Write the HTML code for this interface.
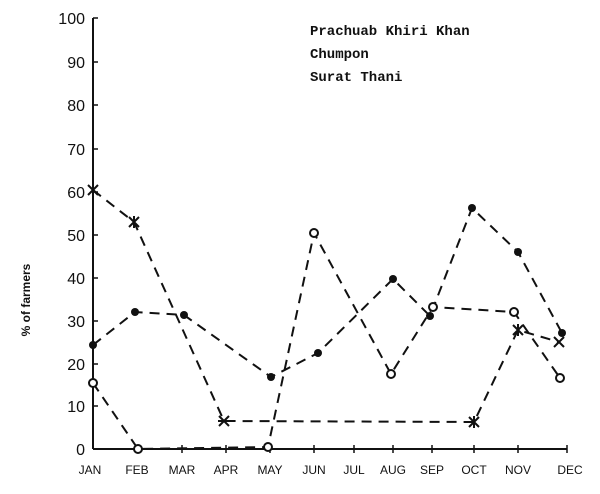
<!DOCTYPE html>
<html><head><style>
html,body{margin:0;padding:0;background:#fff;}
svg{display:block;}
.t{font-family:"Liberation Sans",sans-serif;font-size:16px;fill:#111;}
.m{font-family:"Liberation Sans",sans-serif;font-size:12px;fill:#111;}
.l{font-family:"Liberation Mono",monospace;font-size:14px;fill:#111;font-weight:bold;}
</style></head><body>
<svg width="600" height="494" viewBox="0 0 600 494">
<g stroke="#111" stroke-width="2" fill="none">
<line x1="93" y1="18" x2="93" y2="449"/>
<line x1="93" y1="449" x2="567" y2="449"/>
</g>
<g stroke="#111" stroke-width="1.5">
<line x1="93" y1="18" x2="98" y2="18"/><line x1="93" y1="62" x2="98" y2="62"/><line x1="93" y1="105" x2="98" y2="105"/>
<line x1="93" y1="149" x2="98" y2="149"/><line x1="93" y1="192" x2="98" y2="192"/><line x1="93" y1="235" x2="98" y2="235"/>
<line x1="93" y1="278" x2="98" y2="278"/><line x1="93" y1="321" x2="98" y2="321"/><line x1="93" y1="364" x2="98" y2="364"/>
<line x1="93" y1="406" x2="98" y2="406"/>
<line x1="137" y1="445" x2="137" y2="453"/><line x1="182" y1="445" x2="182" y2="453"/><line x1="226" y1="445" x2="226" y2="453"/>
<line x1="270" y1="445" x2="270" y2="453"/><line x1="314" y1="445" x2="314" y2="453"/><line x1="354" y1="445" x2="354" y2="453"/>
<line x1="393" y1="445" x2="393" y2="453"/><line x1="432" y1="445" x2="432" y2="453"/><line x1="474" y1="445" x2="474" y2="453"/>
<line x1="518" y1="445" x2="518" y2="453"/><line x1="567" y1="445" x2="567" y2="453"/>
</g>
<g class="t" text-anchor="end">
<text x="85" y="24">100</text><text x="85" y="68">90</text><text x="85" y="111">80</text><text x="85" y="155">70</text>
<text x="85" y="198">60</text><text x="85" y="241">50</text><text x="85" y="284">40</text><text x="85" y="327">30</text>
<text x="85" y="370">20</text><text x="85" y="412">10</text><text x="85" y="455">0</text>
</g>
<g class="m" text-anchor="middle">
<text x="90" y="474">JAN</text><text x="137" y="474">FEB</text><text x="182" y="474">MAR</text><text x="226" y="474">APR</text>
<text x="270" y="474">MAY</text><text x="314" y="474">JUN</text><text x="354" y="474">JUL</text><text x="393" y="474">AUG</text>
<text x="432" y="474">SEP</text><text x="474" y="474">OCT</text><text x="518" y="474">NOV</text><text x="570" y="474">DEC</text>
</g>
<text class="m" font-weight="bold" transform="translate(30,300) rotate(-90)" text-anchor="middle">% of farmers</text>
<text class="l" x="310" y="35">Prachuab Khiri Khan</text>
<text class="l" x="310" y="58">Chumpon</text>
<text class="l" x="310" y="81">Surat Thani</text>
<g stroke="#111" stroke-width="2" fill="none" stroke-dasharray="10,7">
<polyline points="93,345 135,312 184,315 271,377 318,353 393,279 430,316 472,208 518,252 562,333"/>
<polyline points="93,190 134,222 224,421 474,422 518,330 559,342"/>
<polyline points="93,383 138,449 268,447 314,233 391,374 433,307 514,312 560,378"/>
</g>
<g fill="#111">
<circle cx="93" cy="345" r="4"/><circle cx="135" cy="312" r="4"/><circle cx="184" cy="315" r="4"/>
<circle cx="271" cy="377" r="4"/><circle cx="318" cy="353" r="4"/><circle cx="393" cy="279" r="4"/>
<circle cx="430" cy="316" r="4"/><circle cx="472" cy="208" r="4"/><circle cx="518" cy="252" r="4"/><circle cx="562" cy="333" r="4"/>
</g>
<g stroke="#111" stroke-width="2" fill="#fff">
<circle cx="93" cy="383" r="4"/><circle cx="138" cy="449" r="4"/><circle cx="268" cy="447" r="4"/>
<circle cx="314" cy="233" r="4"/><circle cx="391" cy="374" r="4"/><circle cx="433" cy="307" r="4"/>
<circle cx="514" cy="312" r="4"/><circle cx="560" cy="378" r="4"/>
</g>
<g stroke="#111" stroke-width="2">
<path d="M88,185 l10,10 M98,185 l-10,10 M93,184 v12"/>
<path d="M129,217 l10,10 M139,217 l-10,10 M134,216 v12"/>
<path d="M219,416 l10,10 M229,416 l-10,10 M218,421 h12"/>
<path d="M469,417 l10,10 M479,417 l-10,10 M474,416 v12"/>
<path d="M513,325 l10,10 M523,325 l-10,10 M518,324 v12"/>
<path d="M554,337 l10,10 M564,337 l-10,10"/>
</g>
</svg>
</body></html>
